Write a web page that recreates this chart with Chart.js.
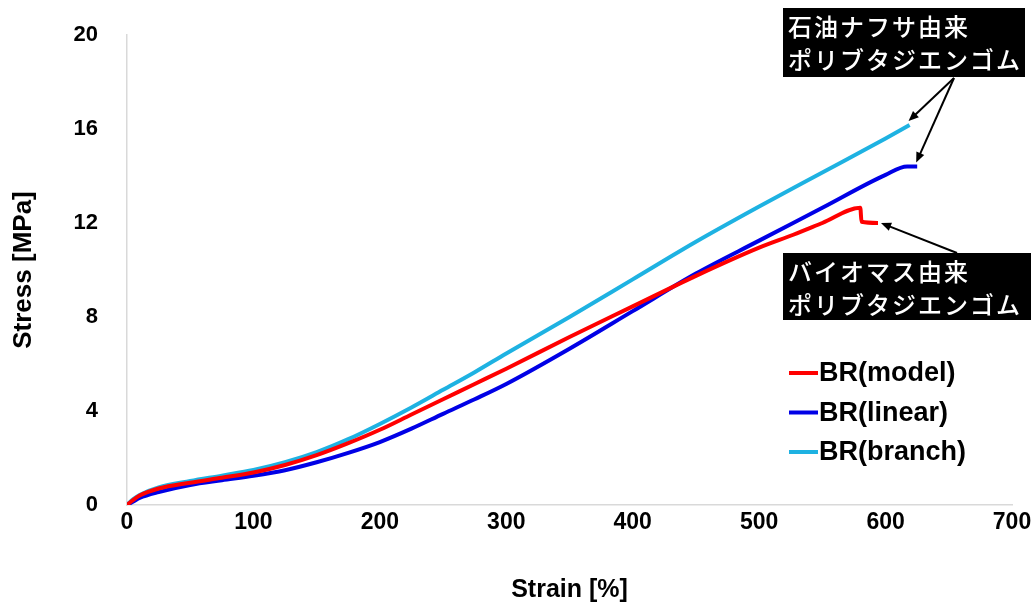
<!DOCTYPE html>
<html>
<head>
<meta charset="utf-8">
<script src="https://cdn.jsdelivr.net/npm/chart.js@4.4.1/dist/chart.umd.min.js"></script>
<style>
  html, body { margin: 0; padding: 0; background: #fff; }
  #wrap { width: 1036px; height: 605px; position: relative; }
</style>
</head>
<body>
<div id="wrap"><canvas id="chart" width="1036" height="605"></canvas></div>
<script>
// Strain [%] / Stress [MPa]
const strainModel = [0, 5, 10, 25, 50, 75, 100, 125, 150, 175, 200, 225, 250, 275, 300, 350, 400, 450, 500, 527, 550, 580, 581, 594];
const stressModel = [0, 0.22, 0.4, 0.7, 0.95, 1.16, 1.38, 1.7, 2.12, 2.63, 3.2, 3.85, 4.5, 5.15, 5.8, 7.15, 8.45, 9.75, 10.95, 11.5, 12.0, 12.65, 12.05, 12.0];

const strainLinear = [0, 5, 10, 25, 50, 75, 100, 125, 150, 175, 200, 225, 250, 275, 300, 350, 400, 450, 500, 550, 600, 617, 625];
const stressLinear = [0, 0.15, 0.3, 0.55, 0.85, 1.05, 1.24, 1.48, 1.82, 2.22, 2.68, 3.25, 3.88, 4.5, 5.15, 6.65, 8.25, 9.85, 11.25, 12.65, 14.05, 14.4, 14.4];

const strainBranch = [0, 5, 10, 25, 50, 75, 100, 125, 150, 175, 200, 225, 250, 275, 300, 350, 400, 450, 500, 550, 600, 619];
const stressBranch = [0, 0.25, 0.43, 0.75, 1.02, 1.25, 1.49, 1.82, 2.25, 2.8, 3.45, 4.15, 4.9, 5.65, 6.45, 8.0, 9.6, 11.2, 12.7, 14.15, 15.6, 16.17];

const SERIES = [
    { label: 'BR(model)', xs: strainModel, ys: stressModel, color: '#ff0000' },
    { label: 'BR(linear)', xs: strainLinear, ys: stressLinear, color: '#0000e6' },
    { label: 'BR(branch)', xs: strainBranch, ys: stressBranch, color: '#1eb2e2' },
];

const NOTE_PETRO = ['石油ナフサ由来', 'ポリブタジエンゴム'];
const NOTE_BIO = ['バイオマス由来', 'ポリブタジエンゴム'];

const FONT = '"Liberation Sans", Arial, sans-serif';
const JP_FONT = '"Noto Sans CJK JP", sans-serif';

function lastPoint(chart, i) {
    const pts = chart.getDatasetMeta(i).data;
    return pts[pts.length - 1];
}

function arrow(ctx, x1, y1, x2, y2) {
    const ang = Math.atan2(y2 - y1, x2 - x1);
    const head = 11;
    ctx.beginPath();
    ctx.moveTo(x1, y1);
    ctx.lineTo(x2 - Math.cos(ang) * head * 0.7, y2 - Math.sin(ang) * head * 0.7);
    ctx.stroke();
    ctx.beginPath();
    ctx.moveTo(x2, y2);
    ctx.lineTo(x2 - head * Math.cos(ang - 0.4), y2 - head * Math.sin(ang - 0.4));
    ctx.lineTo(x2 - head * Math.cos(ang + 0.4), y2 - head * Math.sin(ang + 0.4));
    ctx.closePath();
    ctx.fill();
}

function noteBox(ctx, x, y, w, h, lines) {
    ctx.fillStyle = '#000';
    ctx.fillRect(x, y, w, h);
    ctx.fillStyle = '#fff';
    ctx.font = '500 24px ' + JP_FONT;
    ctx.textBaseline = 'middle';
    ctx.textAlign = 'left';
    if (ctx.letterSpacing !== undefined) ctx.letterSpacing = '2px';
    lines.forEach((t, i) => ctx.fillText(t, x + 5, y + 19 + i * 33));
    if (ctx.letterSpacing !== undefined) ctx.letterSpacing = '0px';
}

const extras = {
    id: 'extras',
    afterDatasetsDraw(chart) {
        const ctx = chart.ctx;
        ctx.save();

        // legend inside the plot
        ctx.font = 'bold 27px ' + FONT;
        ctx.textBaseline = 'middle';
        ctx.textAlign = 'left';
        SERIES.forEach((s, i) => {
            const y = 373 + i * 39.5;
            ctx.strokeStyle = s.color;
            ctx.lineWidth = 4;
            ctx.beginPath();
            ctx.moveTo(789, y);
            ctx.lineTo(818, y);
            ctx.stroke();
            ctx.fillStyle = '#000';
            ctx.fillText(s.label, 819, y + 1);
        });

        // annotation boxes + arrows
        noteBox(ctx, 783, 8, 242, 69, NOTE_PETRO);
        noteBox(ctx, 783, 253, 248, 67, NOTE_BIO);

        ctx.strokeStyle = '#000';
        ctx.fillStyle = '#000';
        ctx.lineWidth = 2;
        const pBranch = lastPoint(chart, 2);
        const pLinear = lastPoint(chart, 1);
        const pModel = lastPoint(chart, 0);
        arrow(ctx, 954, 78, pBranch.x - 1, pBranch.y - 4);
        arrow(ctx, 954, 78, pLinear.x - 1, pLinear.y - 4);
        arrow(ctx, 957, 253, pModel.x + 3, pModel.y);
        ctx.restore();
    }
};

new Chart(document.getElementById('chart'), {
    type: 'line',
    data: {
        datasets: SERIES.map(s => ({
            label: s.label,
            data: s.xs.map((x, i) => ({ x, y: s.ys[i] })),
            borderColor: s.color,
            backgroundColor: s.color,
            borderWidth: 4,
            pointRadius: 0,
            cubicInterpolationMode: 'monotone',
            fill: false,
        })),
    },
    options: {
        responsive: false,
        animation: false,
        layout: { padding: { left: 0, top: 35, right: 24, bottom: 0 } },
        plugins: { legend: { display: false }, tooltip: { enabled: false } },
        scales: {
            x: {
                type: 'linear',
                min: 0,
                max: 700,
                ticks: { stepSize: 100, color: '#000', font: { family: FONT, size: 23, weight: 'bold' }, padding: 4, maxRotation: 0 },
                grid: { drawOnChartArea: false, drawTicks: false },
                border: { color: '#d9d9d9', width: 1.5 },
                title: { display: true, text: 'Strain [%]', color: '#000', font: { family: FONT, size: 25, weight: 'bold' }, padding: { top: 30, bottom: 0 } },
                afterFit(s) { s.height = 100; },
            },
            y: {
                type: 'linear',
                min: 0,
                max: 20,
                ticks: { stepSize: 4, color: '#000', font: { family: FONT, size: 22, weight: 'bold' }, padding: 29 },
                grid: { drawOnChartArea: false, drawTicks: false },
                border: { color: '#d9d9d9', width: 1.5 },
                title: { display: true, text: 'Stress [MPa]', color: '#000', font: { family: FONT, size: 26, weight: 'bold' }, padding: { top: 8, bottom: 0 } },
                afterFit(s) { s.width = 127; s.paddingTop = 0; s.paddingBottom = 0; },
            },
        },
    },
    plugins: [extras],
});
</script>
</body>
</html>
